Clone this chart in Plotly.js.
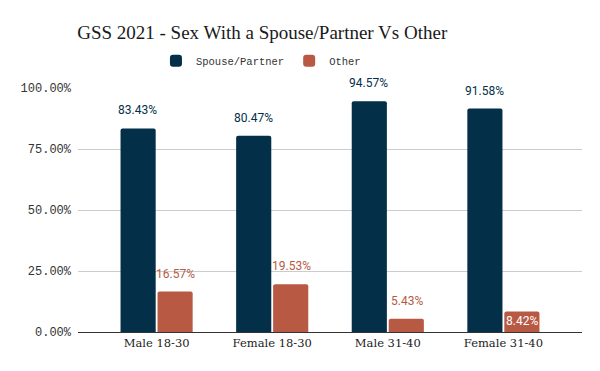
<!DOCTYPE html>
<html><head><meta charset="utf-8">
<script src="https://cdn.plot.ly/plotly-3.0.1.min.js"></script>
<style>html,body{margin:0;padding:0;background:#fff}#chart{width:600px;height:371px}</style>
</head><body><div id="chart"></div>
<script>
const categories = ["Male 18-30", "Female 18-30", "Male 31-40", "Female 31-40"];
const spousePartner = [83.43, 80.47, 94.57, 91.58];
const other = [16.57, 19.53, 5.43, 8.42];
const seriesNames = ["Spouse/Partner", "Other"];
const yTicks = [0, 25, 50, 75, 100];

const navy = "#032f49", rust = "#b85a43";
const traces = [
  {type: "bar", name: seriesNames[0], x: categories, y: spousePartner, marker: {color: navy}, hoverinfo: "none"},
  {type: "bar", name: seriesNames[1], x: categories, y: other, marker: {color: rust}, hoverinfo: "none"}
];

const annotations = [];
[[spousePartner, -19, navy], [other, 19, rust]].forEach(([vals, dx, col]) => {
  vals.forEach((v, i) => {
    const inside = (col === rust && i === 3);
    annotations.push({
      x: categories[i], y: v, xref: "x", yref: "y", text: v.toFixed(2) + "%",
      showarrow: false, xshift: dx, yshift: inside ? -10 : 18,
      font: {family: "Roboto, sans-serif", size: 12, color: inside ? "#ffffff" : col}
    });
  });
});

const layout = {
  width: 600, height: 371,
  margin: {l: 78, r: 18, t: 88, b: 39},
  paper_bgcolor: "#fff", plot_bgcolor: "#fff",
  title: {text: "GSS 2021 - Sex With a Spouse/Partner Vs Other", x: 0.437, xanchor: "center", y: 0.912, yanchor: "middle",
          font: {family: "Liberation Serif, serif", size: 19, color: "#1a1a1a"}},
  showlegend: true,
  legend: {orientation: "h", x: 0.363, xanchor: "center", y: 1.112, yanchor: "middle",
           font: {family: "Liberation Mono, monospace", size: 10.5, color: "#333"}},
  barmode: "group", bargap: 0.36, bargroupgap: 0.05, barcornerradius: 2,
  xaxis: {range: [-0.68, 3.68], showgrid: false, showline: true, linecolor: "#333", linewidth: 1, ticks: "",
          tickfont: {family: "DejaVu Serif, serif", size: 11.5, color: "#222"}},
  yaxis: {range: [0, 100], tickvals: yTicks, ticktext: yTicks.map(t => t.toFixed(2) + "%"),
          showgrid: true, gridcolor: "#cccccc", zeroline: false, ticks: "", ticklabelstandoff: 6,
          tickfont: {family: "Liberation Mono, monospace", size: 12, color: "#333"}},
  annotations: annotations
};
Plotly.newPlot("chart", traces, layout, {displayModeBar: false, staticPlot: true});
</script></body></html>
